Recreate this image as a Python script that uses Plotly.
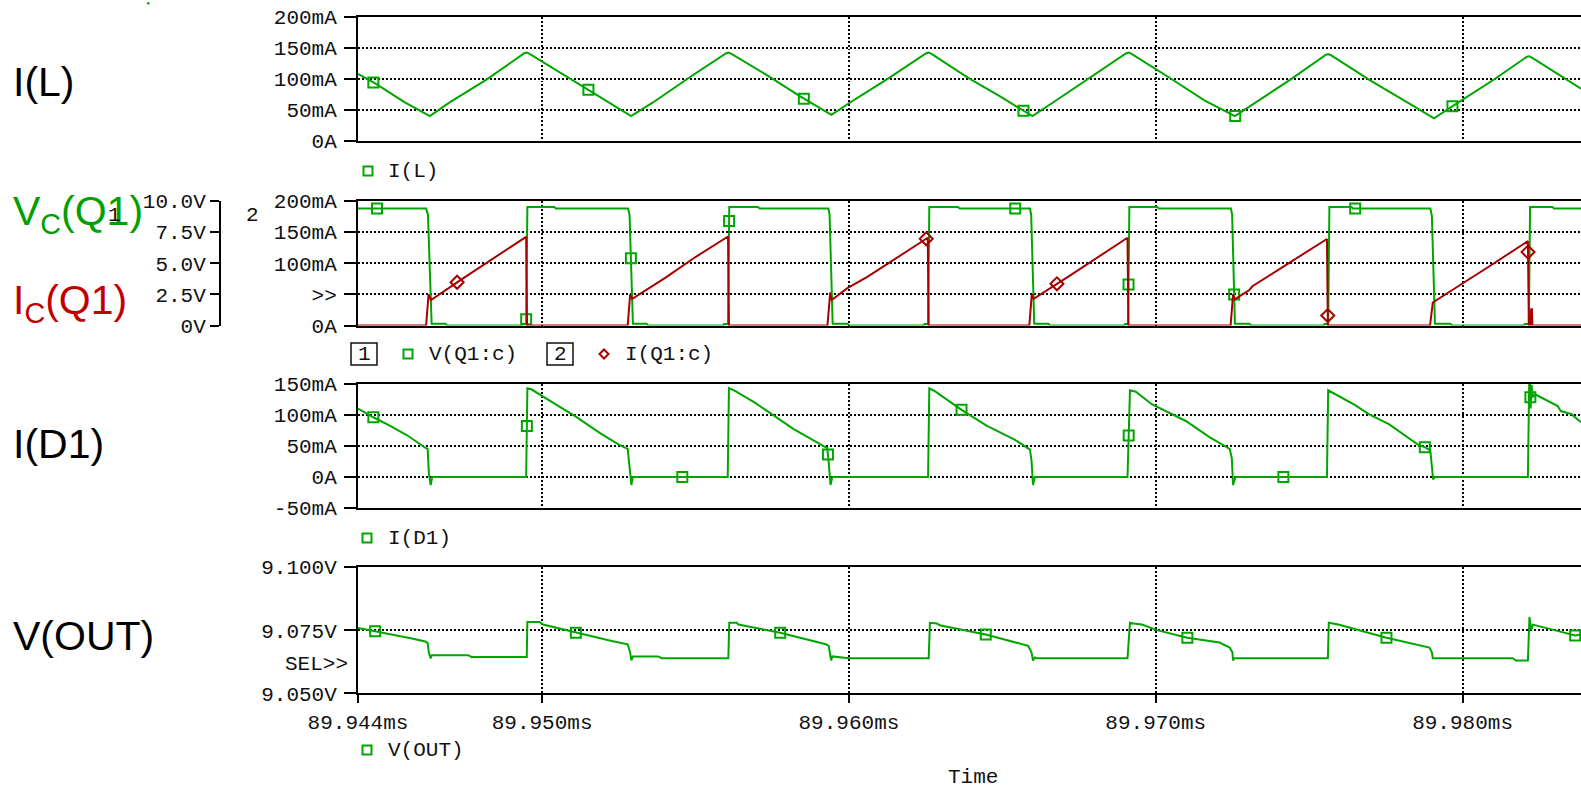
import plotly.graph_objects as go

W, H = 1581, 788
T0_MS = 89.944          # left edge of the time axis (ms)
SPAN_US = 39.86         # visible window (us)

GREEN = "#00a600"
GREEN_TXT = "#00a000"
DARKRED = "#a80000"
RED_TXT = "#c00000"
MONO = "Liberation Mono"
SANS = "Liberation Sans"

# ---------------- time axis ----------------
time_tick_vals = [89.944, 89.950, 89.960, 89.970, 89.980]
time_tick_text = ["89.944ms", "89.950ms", "89.960ms", "89.970ms", "89.980ms"]

# ---------------- I(L)  (mA, time in us after 89.944 ms) ----------------
il_t = [0.0, 0.6, 1.5, 2.34, 3.0, 4.2, 5.42, 5.5, 5.58, 6.6, 7.8, 8.9, 9.6, 10.8,
        12.0, 12.08, 12.16, 13.3, 14.4, 15.43, 16.2, 17.3, 18.52, 18.6, 18.68,
        19.9, 20.9, 21.98, 22.7, 23.9, 25.04, 25.12, 25.2, 26.5, 27.6, 28.58,
        29.3, 30.4, 31.56, 31.64, 31.72, 33.0, 34.2, 35.07, 35.8, 37.0, 38.1,
        38.18, 38.26, 39.2, 39.86]
il_v = [108, 91.5, 63, 40, 62.5, 99, 141, 142, 140.5, 109.5, 74, 40, 61.5, 102,
        141, 142, 140.5, 106.5, 72, 42, 67, 101, 141, 142, 140.5,
        101, 72.5, 40, 63.5, 102.5, 141, 142, 140.5, 100, 65, 40,
        63.5, 99, 139, 139.5, 137.5, 97, 62, 36.5, 60, 98, 135.5,
        136, 134, 104.5, 84]
il_mk_t = [0.5, 7.51, 14.53, 21.69, 28.59, 35.67]
il_mk_v = [94, 82.5, 68, 48.7, 40.3, 55.8]

# ---------------- V(Q1:c)  (V) ----------------
vq_t = [0.0, 2.22, 2.28, 2.40, 2.85, 2.90, 5.33, 5.36, 5.48, 5.52, 6.40, 6.45,
        8.80, 8.85, 8.96, 9.40, 9.45, 11.90, 11.93, 12.06, 12.10, 13.04, 13.09,
        15.33, 15.37, 15.47, 15.95, 16.00, 18.43, 18.46, 18.58, 18.62, 19.56, 19.61,
        21.90, 21.94, 22.04, 22.50, 22.55, 24.97, 25.00, 25.10, 25.14, 26.05, 26.10,
        28.45, 28.49, 28.58, 29.05, 29.10, 31.47, 31.50, 31.62, 31.66, 32.38, 32.43,
        34.95, 35.00, 35.10, 35.60, 35.65, 38.00, 38.03, 38.16, 38.20, 38.93, 38.98, 39.86]
vq_v = [9.39, 9.39, 8.9, 0.15, 0.15, 0.0, 0.0, 0.13, 0.13, 9.52, 9.52, 9.39,
        9.39, 8.9, 0.15, 0.15, 0.0, 0.0, 0.13, 0.13, 9.52, 9.52, 9.39,
        9.39, 8.9, 0.15, 0.15, 0.0, 0.0, 0.13, 0.13, 9.52, 9.52, 9.39,
        9.39, 8.9, 0.15, 0.15, 0.0, 0.0, 0.13, 0.13, 9.52, 9.52, 9.39,
        9.39, 8.9, 0.15, 0.15, 0.0, 0.0, 0.13, 0.13, 9.52, 9.52, 9.39,
        9.39, 8.8, 0.15, 0.15, 0.0, 0.0, 0.13, 0.13, 9.52, 9.52, 9.39, 9.39]
vq_mk_t = [0.62, 5.482, 8.894, 12.095, 21.42, 25.113, 28.556, 32.5]
vq_mk_v = [9.39, 0.5, 5.4, 8.4, 9.39, 3.3, 2.5, 9.39]

# ---------------- I(Q1:c)  (mA) ----------------
iq_t = [0.0, 2.22, 2.30, 2.38, 3.4, 4.5, 5.48, 5.51,
        8.79, 8.87, 8.94, 10.0, 11.0, 12.06, 12.09,
        15.30, 15.39, 15.44, 15.95, 16.6, 17.5, 18.57, 18.60,
        21.88, 21.96, 22.02, 23.2, 24.2, 25.08, 25.11,
        28.44, 28.52, 28.57, 29.05, 29.15, 30.3, 31.58, 31.61,
        34.94, 35.03, 35.9, 36.9, 38.13, 38.16, 38.22, 38.235, 38.26, 38.275, 39.86]
iq_v = [0, 0, 50, 41, 75, 110.5, 142.5, 0,
        0, 50, 43, 76, 110, 143, 0,
        0, 53, 41, 60, 78, 107, 141, 0,
        0, 50, 43, 80, 113, 141, 0,
        0, 50, 42, 57, 63, 99, 139, 0,
        0, 37, 64, 96, 135.5, 0, 0, 26, 26, 0, 0]
iq_mk_t = [3.23, 18.52, 22.78, 31.6065, 38.134]
iq_mk_v = [69.5, 139.4, 67, 16, 118]

# ---------------- I(D1)  (mA) ----------------
id_t = [0.0, 0.5, 1.05, 1.6, 2.19, 2.27, 2.31, 2.37, 2.42,
        5.48, 5.52, 5.65, 6.3, 7.1, 7.9, 8.5, 8.79, 8.87, 8.91, 8.96,
        12.05, 12.09, 12.3, 12.92, 13.86, 14.2, 15.19, 15.29, 15.33, 15.40, 15.46,
        18.58, 18.62, 18.8, 19.67, 20.5, 21.4, 21.83, 21.9, 21.95, 22.0, 22.06,
        25.08, 25.16, 25.35, 25.87, 26.31, 26.98, 27.75, 28.41, 28.48, 28.52, 28.6,
        31.58, 31.62, 32.5, 32.94, 33.6, 34.59, 34.77, 34.95, 35.01, 35.04, 35.11,
        38.13, 38.17, 38.2, 38.22, 38.25, 38.28, 38.35, 38.44, 38.77, 39.1, 39.2, 39.55, 39.86]
id_v = [110, 96, 82, 67, 47, 45, 5, -13, 0,
        0, 142.6, 141, 121, 97, 70, 52, 45, 10, -13, 0,
        0, 142.8, 138, 120, 88, 77, 49, 47, 30, -13, 0,
        0, 142.6, 138, 108, 82, 60, 47, 44, 27, -13, 0,
        0, 139.4, 137, 117, 106, 90, 64, 45, 30, -13, 0,
        0, 139.4, 115.4, 101, 85, 50.5, 47.9, 42.5, 0, -4, 0,
        0, 148, 148, 110, 148, 128, 133, 131, 122, 114, 106, 101, 88]
id_mk_t = [0.5, 5.503, 10.57, 15.316, 19.67, 25.118, 30.16, 34.77, 38.2105]
id_mk_v = [96, 82, 0, 36, 108, 66.5, 0, 47.9, 128]

# ---------------- V(OUT)  (V) ----------------
vo_t = [0.0, 0.56, 1.14, 1.72, 2.19, 2.27, 2.31, 2.37, 2.40, 3.59, 3.70,
        5.50, 5.52, 5.92, 6.03, 7.1, 8.27, 8.79, 8.87, 8.91, 8.96, 9.78, 9.90,
        12.07, 12.10, 12.34, 12.40, 13.76, 15.25, 15.34, 15.42, 15.46, 15.95, 16.0,
        18.6, 18.64, 18.87, 18.99, 20.46, 21.84, 21.95, 22.0, 22.06, 22.12,
        25.08, 25.16, 25.27, 25.55, 26.04, 27.03, 28.08, 28.41, 28.50, 28.52, 28.56,
        31.61, 31.64, 31.95, 33.52, 34.92, 35.0, 35.03, 37.63, 37.74,
        38.13, 38.18, 38.24, 38.29, 38.9, 39.67, 39.86]
vo_v = [9.0759, 9.0746, 9.0733, 9.0718, 9.0705, 9.0699, 9.066, 9.0638, 9.0651, 9.0651, 9.0644,
        9.0644, 9.0782, 9.0782, 9.0772, 9.074, 9.0707, 9.0694, 9.0662, 9.063, 9.0646, 9.0646, 9.0639,
        9.0639, 9.0779, 9.0779, 9.0772, 9.074, 9.0694, 9.0688, 9.063, 9.0646, 9.0642, 9.0639,
        9.0639, 9.0779, 9.0776, 9.0768, 9.0733, 9.0688, 9.0662, 9.063, 9.0642, 9.0639,
        9.0639, 9.0779, 9.0776, 9.0772, 9.075, 9.072, 9.0701, 9.0681, 9.0662, 9.063, 9.0639,
        9.0639, 9.0779, 9.0772, 9.072, 9.0681, 9.0662, 9.0639, 9.0639, 9.063,
        9.063, 9.0802, 9.075, 9.0772, 9.0753, 9.0729, 9.0733]
vo_mk_t = [0.56, 7.1, 13.76, 20.46, 27.03, 33.52, 39.67]
vo_mk_v = [9.0746, 9.074, 9.074, 9.0733, 9.072, 9.072, 9.0729]


def ms(ts):
    return [T0_MS + t / 1000.0 for t in ts]


def px(x):
    return x / W


def py(y):
    return 1 - y / H


fig = go.Figure()


def line(t, v, xa, ya, color):
    fig.add_trace(go.Scatter(x=ms(t), y=v, xaxis=xa, yaxis=ya, mode="lines",
                             line=dict(color=color, width=2), showlegend=False,
                             hoverinfo="skip"))


def marks(t, v, xa, ya, color, symbol):
    fig.add_trace(go.Scatter(x=ms(t), y=v, xaxis=xa, yaxis=ya, mode="markers",
                             marker=dict(symbol=symbol, size=10, color=color,
                                         line=dict(color=color, width=2)),
                             showlegend=False, hoverinfo="skip"))


line(il_t, il_v, "x", "y", GREEN)
marks(il_mk_t, il_mk_v, "x", "y", GREEN, "square-open")

line(vq_t, vq_v, "x2", "y2", GREEN)
marks(vq_mk_t, vq_mk_v, "x2", "y2", GREEN, "square-open")
line(iq_t, iq_v, "x2", "y5", DARKRED)
marks(iq_mk_t, iq_mk_v, "x2", "y5", DARKRED, "diamond-open")

line(id_t, id_v, "x3", "y3", GREEN)
marks(id_mk_t, id_mk_v, "x3", "y3", GREEN, "square-open")

line(vo_t, vo_v, "x4", "y4", GREEN)
marks(vo_mk_t, vo_mk_v, "x4", "y4", GREEN, "square-open")

# ---------------- axes ----------------
TICKFONT = dict(family=MONO, size=21, color="#111111")
GRID = dict(showgrid=True, gridcolor="black", gridwidth=2, griddash="2px,2px")
XDOM = [px(358), 1.0]

xbase = dict(range=[T0_MS, T0_MS + SPAN_US / 1000.0], domain=XDOM, showline=True,
             linecolor="black", linewidth=2, mirror=True, tickmode="array",
             tickvals=time_tick_vals, ticktext=time_tick_text, zeroline=False,
             tickfont=TICKFONT, automargin=False, **GRID)

ybase = dict(showline=True, linecolor="black", linewidth=2, ticks="outside",
             ticklen=12, tickwidth=2, tickcolor="black", zeroline=False,
             tickmode="array", tickfont=TICKFONT, automargin=False,
             ticklabelstandoff=3, **GRID)

dom1 = [py(141), py(16.5)]
dom2 = [py(325.5), py(201)]
dom3 = [py(508), py(383.7)]
dom4 = [py(693.3), py(567)]

fig.update_layout(
    width=W, height=H, margin=dict(l=0, r=0, t=0, b=0, autoexpand=False),
    paper_bgcolor="white", plot_bgcolor="white",
    xaxis=dict(xbase, anchor="y", showticklabels=False, ticks=""),
    xaxis2=dict(xbase, anchor="y2", showticklabels=False, ticks=""),
    xaxis3=dict(xbase, anchor="y3", showticklabels=False, ticks=""),
    xaxis4=dict(xbase, anchor="y4", showticklabels=True, ticks="outside",
                ticklen=8, tickwidth=2, tickcolor="black", ticklabelstandoff=0),
    yaxis=dict(ybase, domain=dom1, anchor="x", range=[0, 200],
               tickvals=[0, 50, 100, 150, 200],
               ticktext=["0A", "50mA", "100mA", "150mA", "200mA"]),
    yaxis2=dict(ybase, domain=dom2, anchor="free", position=px(220), side="left",
                range=[0, 10], tickvals=[0, 2.5, 5, 7.5, 10], ticklen=9,
                ticklabelstandoff=0,
                ticktext=["0V", "2.5V", "5.0V", "7.5V", "10.0V"], showgrid=False),
    yaxis5=dict(ybase, domain=dom2, anchor="x2", overlaying="y2", side="left",
                range=[0, 200], tickvals=[0, 50, 100, 150, 200],
                ticktext=["0A", ">>", "100mA", "150mA", "200mA"]),
    yaxis3=dict(ybase, domain=dom3, anchor="x3", range=[-50, 150],
                tickvals=[-50, 0, 50, 100, 150],
                ticktext=["-50mA", "0A", "50mA", "100mA", "150mA"]),
    yaxis4=dict(ybase, domain=dom4, anchor="x4", range=[9.05, 9.1],
                tickvals=[9.05, 9.075, 9.1],
                ticktext=["9.050V", "9.075V", "9.100V"]),
)

# ---------------- text ----------------
ann = []


def text(s, x, y, size, color, family=MONO, xanchor="left"):
    ann.append(dict(text=s, x=px(x), y=py(y), xref="paper", yref="paper",
                    xanchor=xanchor, yanchor="middle", showarrow=False,
                    font=dict(family=family, size=size, color=color)))


text("I(L)", 11, 82, 41, "black", SANS)
text("V<sub>C</sub>(Q1)", 11, 214, 41, GREEN_TXT, SANS)
text("I<sub>C</sub>(Q1)", 11, 303, 41, RED_TXT, SANS)
text("I(D1)", 11, 444, 41, "black", SANS)
text("V(OUT)", 11, 636, 41, "black", SANS)

text("1", 114, 215, 21, "#111111", xanchor="center")
text("2", 252, 215, 21, "#111111", xanchor="center")
text("SEL>>", 350, 664, 21, "#111111", xanchor="right")
text("Time", 973, 777, 21, "#111111", xanchor="center")

text("I(L)", 386, 171, 21, "#111111")
text("V(Q1:c)", 427, 354, 21, "#111111")
text("I(Q1:c)", 623, 354, 21, "#111111")
text("I(D1)", 386, 538, 21, "#111111")
text("V(OUT)", 386, 750, 21, "#111111")
text("1", 364, 354, 21, "#111111", xanchor="center")
text("2", 560, 354, 21, "#111111", xanchor="center")

fig.update_layout(annotations=ann)

# legend glyphs and boxes
shapes = []


def sq(cx, cy, half=4.5, color=GREEN):
    shapes.append(dict(type="rect", xref="paper", yref="paper",
                       x0=px(cx - half), x1=px(cx + half), y0=py(cy + half), y1=py(cy - half),
                       line=dict(color=color, width=2)))


def box(x0, x1, y0, y1):
    shapes.append(dict(type="rect", xref="paper", yref="paper",
                       x0=px(x0), x1=px(x1), y0=py(y1), y1=py(y0),
                       line=dict(color="#111111", width=1.5)))


sq(368, 171)
sq(408, 354)
sq(367, 538)
sq(367, 750)
box(351, 377, 343, 365)
box(547, 573, 343, 365)
dx, dy = 4.5, 4.5
cx, cy = 604, 354
shapes.append(dict(type="path", xref="paper", yref="paper",
                   path=f"M {px(cx - dx)},{py(cy)} L {px(cx)},{py(cy - dy)} L {px(cx + dx)},{py(cy)} L {px(cx)},{py(cy + dy)} Z",
                   line=dict(color=DARKRED, width=2)))
shapes.append(dict(type="circle", xref="paper", yref="paper",
                   x0=px(147), x1=px(149.5), y0=py(4.5), y1=py(2),
                   fillcolor=GREEN, line=dict(width=0)))
fig.update_layout(shapes=shapes)

fig.write_html("out.html")
